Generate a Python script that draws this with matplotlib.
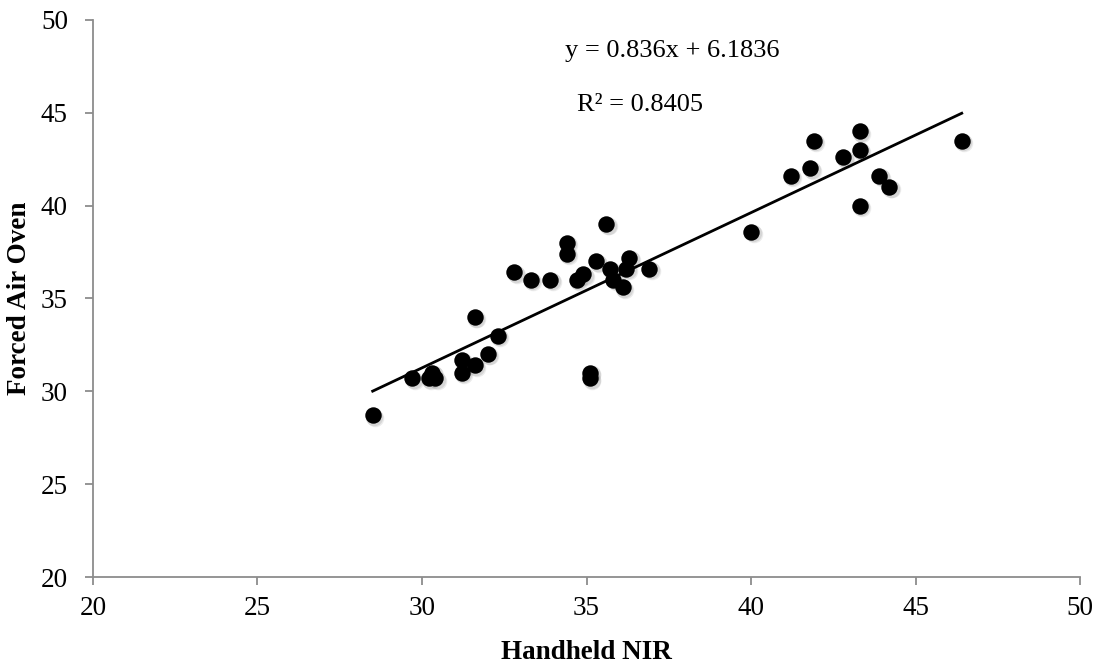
import matplotlib.pyplot as plt

plt.rcParams['font.family'] = ['Liberation Serif', 'DejaVu Serif']

nir = [28.5, 29.7, 30.2, 30.3, 30.4, 31.2, 31.2, 31.6, 31.6, 32.0,
       32.3, 32.8, 33.3, 33.9, 34.4, 34.4, 34.7, 34.9, 35.3, 35.1,
       35.1, 35.6, 35.7, 35.8, 36.1, 36.2, 36.3, 36.9, 40.0, 41.2,
       41.8, 41.9, 42.8, 43.3, 43.3, 43.3, 43.9, 44.2, 46.4]
oven = [28.7, 30.7, 30.7, 31.0, 30.7, 31.7, 31.0, 31.4, 34.0, 32.0,
        33.0, 36.4, 36.0, 36.0, 38.0, 37.4, 36.0, 36.3, 37.0, 31.0,
        30.7, 39.0, 36.6, 36.0, 35.6, 36.6, 37.2, 36.6, 38.6, 41.6,
        42.0, 43.5, 42.6, 44.0, 43.0, 40.0, 41.6, 41.0, 43.5]

slope = 0.836
intercept = 6.1836
r2 = 0.8405

fig, ax = plt.subplots(figsize=(11, 6.64), dpi=100)
fig.subplots_adjust(left=0.0845, right=0.982, top=0.97, bottom=0.131)

# soft shadow under the markers
for dx, dy, a in [(0.08, -0.12, 0.15), (0.05, -0.08, 0.2)]:
    ax.scatter([v + dx for v in nir], [v + dy for v in oven], s=160, color='gray',
               alpha=a, linewidths=0, zorder=2)
ax.scatter(nir, oven, s=140, color='black', linewidths=0, zorder=3)

x0, x1 = min(nir), max(nir)
ax.plot([x0, x1], [slope * x0 + intercept, slope * x1 + intercept], color='black', lw=2, zorder=4)

ax.text(34.35, 48.3, f'y = {slope}x + {intercept}', fontsize=19, va='center')
ax.text(34.7, 45.4, f'R² = {r2}', fontsize=19, va='center')

ax.set_xlim(20, 50)
ax.set_ylim(20, 50)
ax.set_xticks(range(20, 51, 5))
ax.set_yticks(range(20, 51, 5))
ax.set_xlabel('Handheld NIR', fontsize=19.5, fontweight='bold', labelpad=13)
ax.set_ylabel('Forced Air Oven', fontsize=19.5, fontweight='bold', labelpad=6)

for side in ['top', 'right']:
    ax.spines[side].set_visible(False)
for side in ['left', 'bottom']:
    ax.spines[side].set_color('#8c8c8c')
    ax.spines[side].set_linewidth(1.3)
ax.tick_params(axis='both', colors='#8c8c8c', labelcolor='black', labelsize=19.5,
               length=6, width=1.3, direction='out')
ax.tick_params(axis='x', pad=8)
ax.tick_params(axis='y', pad=12)

fig.savefig('out.png')
